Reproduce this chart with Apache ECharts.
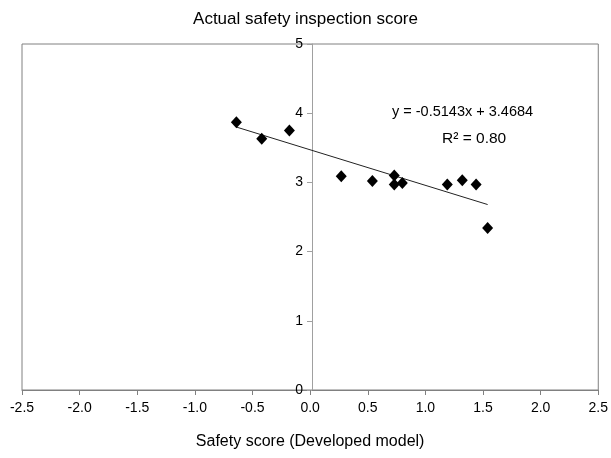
<!DOCTYPE html>
<html>
<head>
<meta charset="utf-8">
<script src="https://cdn.jsdelivr.net/npm/echarts@6/dist/echarts.min.js"></script>
<style>
  html, body { margin: 0; padding: 0; background: #fff; }
  #chart { width: 611px; height: 458px; }
</style>
</head>
<body>
<div id="chart"></div>
<script>
// values
var scoreX = [-0.64, -0.42, -0.18, 0.27, 0.54, 0.73, 0.73, 0.80, 1.19, 1.32, 1.44, 1.54]
var scoreY = [3.87, 3.63, 3.75, 3.09, 3.02, 3.10, 2.97, 2.99, 2.97, 3.03, 2.97, 2.34]
var trendX = [-0.64, 1.54]
var trendY = [3.80, 2.68]
var equationText = 'y = -0.5143x + 3.4684'
var r2Text = 'R² = 0.80'

var font = 'Arial, "Liberation Sans", sans-serif'

var myChart = echarts.init(document.getElementById('chart'))

var points = scoreX.map(function(x, i) { return [x, scoreY[i]] })
var trend = trendX.map(function(x, i) { return [x, trendY[i]] })

var option = {
    animation: false,
    title: {
        text: 'Actual safety inspection score',
        left: 'center',
        top: 6,
        textStyle: { fontFamily: font, fontSize: 17, fontWeight: 'normal', color: '#000' }
    },
    grid: {
        left: 22,
        right: 10,
        top: 44,
        bottom: 68,
        show: true,
        borderColor: '#808080',
        borderWidth: 1
    },
    xAxis: {
        type: 'value',
        min: -2.5,
        max: 2.5,
        interval: 0.5,
        name: 'Safety score (Developed model)',
        nameLocation: 'middle',
        nameGap: 44,
        nameTextStyle: { fontFamily: font, fontSize: 16, color: '#000' },
        axisLine: { onZero: false, lineStyle: { color: '#808080' } },
        axisTick: { show: true, inside: false, length: 5, lineStyle: { color: '#808080' } },
        axisLabel: {
            fontFamily: font, fontSize: 14, color: '#000', margin: 11,
            formatter: function(v) { return v.toFixed(1) }
        },
        splitLine: { show: false }
    },
    yAxis: {
        type: 'value',
        min: 0,
        max: 5,
        interval: 1,
        position: 'left',
        offset: -290,
        axisLine: { show: true, onZero: false, lineStyle: { color: '#a0a0a0' } },
        axisTick: { show: true, length: 5, lineStyle: { color: '#a0a0a0' } },
        axisLabel: { fontFamily: font, fontSize: 14, color: '#000', margin: 9 },
        splitLine: { show: false }
    },
    series: [{
        type: 'scatter',
        symbol: 'diamond',
        symbolSize: [11, 12],
        itemStyle: { color: '#000', opacity: 1 },
        data: points,
        z: 3
    }, {
        type: 'line',
        symbol: 'none',
        lineStyle: { color: '#222', width: 1 },
        data: trend,
        z: 2
    }],
    graphic: [{
        type: 'text',
        left: 392,
        top: 104,
        style: { text: equationText, fontFamily: font, fontSize: 14.5, fill: '#000' }
    }, {
        type: 'text',
        left: 442,
        top: 131,
        style: { text: r2Text, fontFamily: font, fontSize: 15.5, fill: '#000' }
    }]
}

myChart.setOption(option)
</script>
</body>
</html>
